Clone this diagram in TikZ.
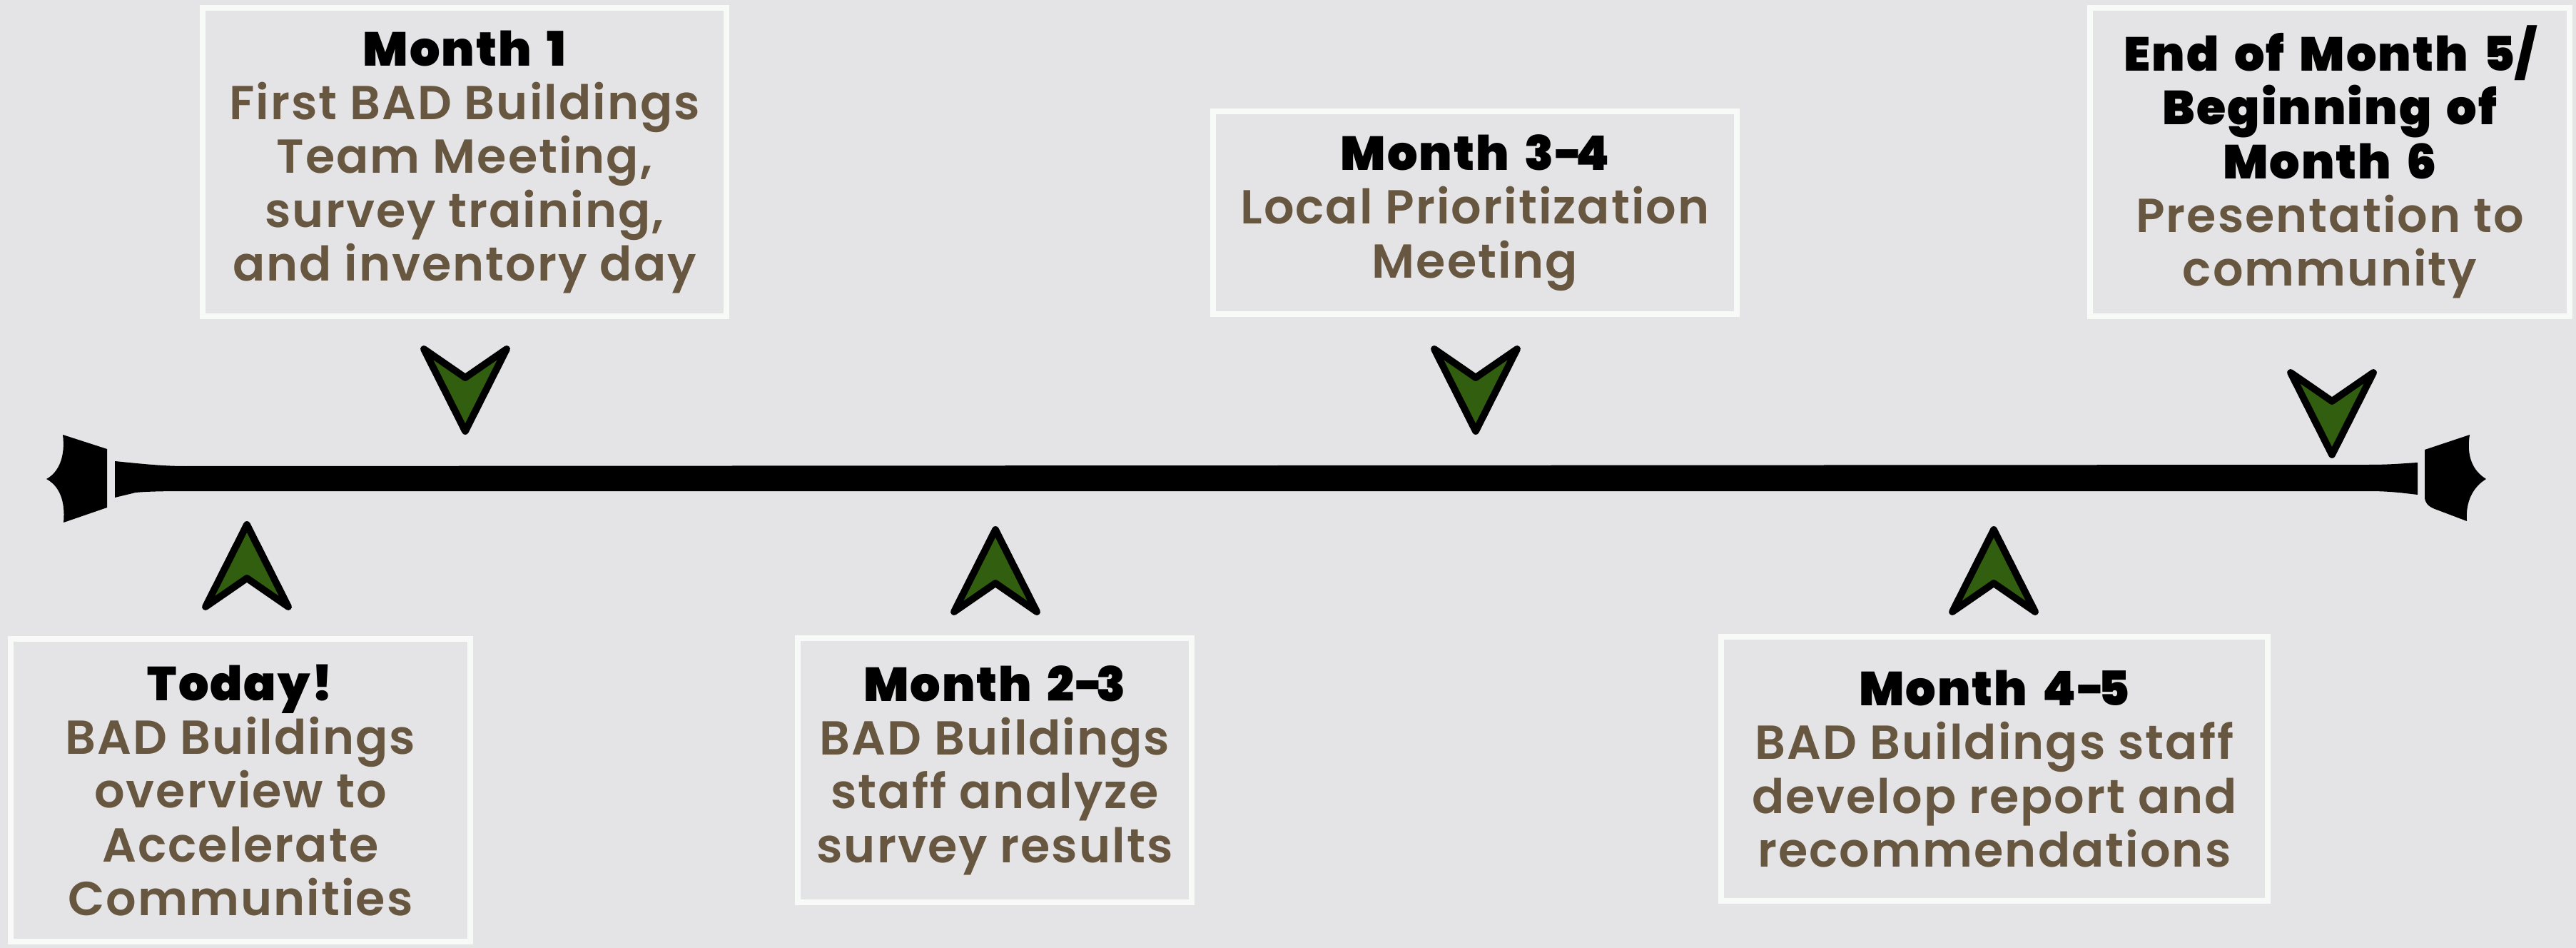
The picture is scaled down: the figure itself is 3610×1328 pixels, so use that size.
\documentclass[tikz,border=0pt]{standalone}
\usepackage{fontspec}
\setmainfont{Poppins}[UprightFont=* SemiBold, BoldFont=* Black, LetterSpace=3,
  HyphenChar=None, BoldFeatures={WordSpace=1.6}]

\definecolor{paper}{RGB}{228,228,230}
\definecolor{frame}{RGB}{248,250,247}
\definecolor{bark}{RGB}{104,87,64}
\definecolor{leaf}{RGB}{50,94,16}
\newcommand{\when}[1]{{\bfseries\color{black}#1}}
\newcommand{\dash}{-\kern-.14em}

\begin{document}
\begin{tikzpicture}[%
    x=0.01cm,
    y=-0.01cm,
    event/.style={draw=frame, line width=2.3pt, fill=paper, text=bark,
      align=center, inner sep=0pt, font=\fontsize{19}{21.4}\selectfont},
    marker/.style={draw=black, fill=leaf, line width=2.8pt, line join=round},
    pointer/.pic={\draw[marker] (0,0) -- (58,115) -- (0,75) -- (-58,115) -- cycle;}
  ]
    \useasboundingbox (0,0) rectangle (3610,1328);
    \fill[paper] (0,0) rectangle (3610,1328);

    % the time line
    \fill (161,646) .. controls (200,650) and (230,653) .. (260,653)
      -- (3320,651) .. controls (3350,651) and (3370,649) .. (3388,648)
      -- (3388,693) .. controls (3370,691) and (3350,688) .. (3320,688)
      -- (260,688) .. controls (220,688) and (200,689) .. (190,690)
      -- (161,697) -- cycle;
    \fill (88,609) -- (150,629) -- (150,711) -- (89,732)
      .. controls (92,700) and (82,680) .. (65,671)
      .. controls (82,662) and (92,640) .. (88,609) -- cycle;
    \fill (3398,630) -- (3461,609)
      .. controls (3456,640) and (3466,660) .. (3484,671)
      .. controls (3466,682) and (3455,702) .. (3457,730)
      -- (3412,713) .. controls (3402,709) and (3398,704) .. (3398,696) -- cycle;

    % events above
    \node[event, minimum width=7.33cm, minimum height=4.31cm] (month1) at (651,227)
      {\when{Month 1}\\First BAD Buildings\\Team Meeting,\\survey training,\\and inventory day};
    \node[event, minimum width=7.33cm, minimum height=2.84cm] (month34) at (2067,298)
      {\when{Month 3\dash4}\\Local Prioritization\\Meeting};
    \node[event, minimum width=6.71cm, minimum height=4.31cm] (month56) at (3265,227)
      {\when{End of Month 5/}\\\when{Beginning of}\\\when{Month 6}\\Presentation to\\community};

    % events below
    \node[event, minimum width=6.43cm, minimum height=4.23cm] (today) at (337,1107)
      {\when{Today!}\\BAD Buildings\\overview to\\Accelerate\\Communities};
    \node[event, minimum width=5.51cm, minimum height=3.70cm] (month23) at (1394,1079)
      {\when{Month 2\dash3}\\BAD Buildings\\staff analyze\\survey results};
    \node[event, minimum width=7.66cm, minimum height=3.70cm] (month45) at (2795,1077)
      {\when{Month 4\dash5}\\BAD Buildings staff\\develop report and\\recommendations};

    % markers
    \pic[rotate=180] at (652,604) {pointer};
    \pic[rotate=180] at (2068,604) {pointer};
    \pic[rotate=180] at (3268,637) {pointer};
    \pic at (346,735) {pointer};
    \pic at (1395,742) {pointer};
    \pic at (2794,742) {pointer};
\end{tikzpicture}
\end{document}
